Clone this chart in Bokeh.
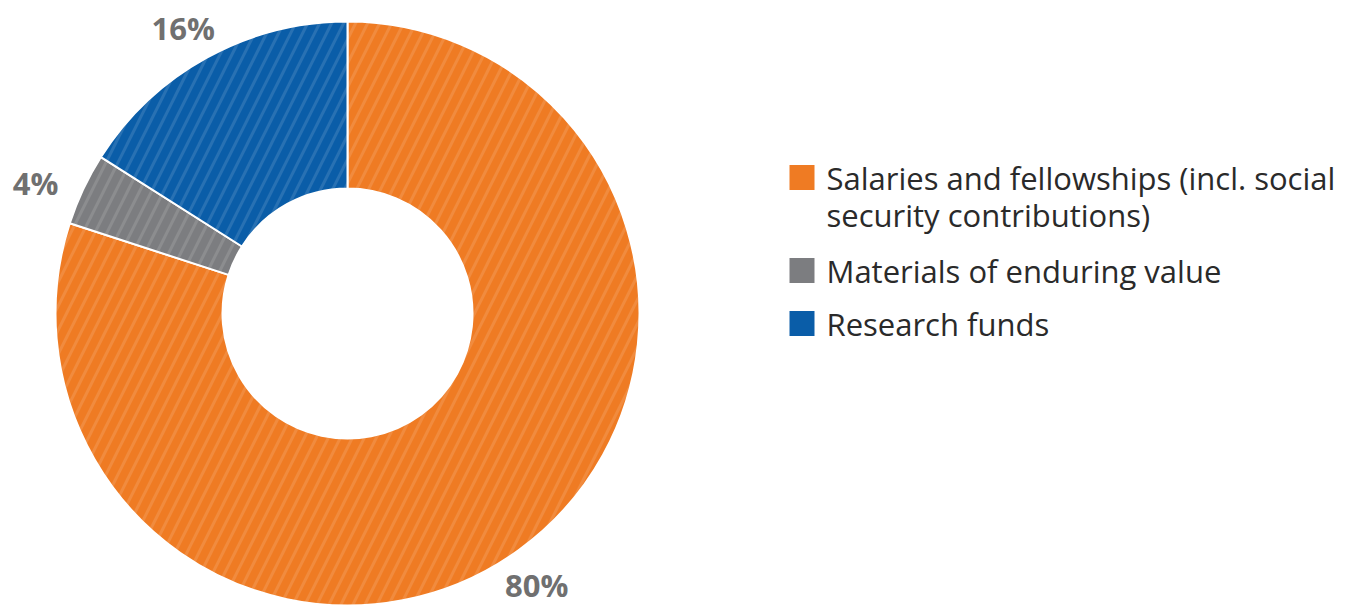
import math
from bokeh.plotting import figure
from bokeh.models import Range1d, ColumnDataSource
from bokeh.core.properties import value
from bokeh.embed import file_html
from bokeh.resources import INLINE

categories = ["Salaries and fellowships (incl. social security contributions)",
              "Materials of enduring value",
              "Research funds"]
legend_lines = [["Salaries and fellowships (incl. social", "security contributions)"],
                ["Materials of enduring value"],
                ["Research funds"]]
shares = [80, 4, 16]
labels = ["80%", "4%", "16%"]
colors = ["#EF7B23", "#7C7D80", "#0A5DA8"]

W, H = 1348, 606
p = figure(width=W, height=H, output_backend="svg", toolbar_location=None,
           x_range=Range1d(0, W), y_range=Range1d(H, 0), min_border=0)
p.axis.visible = False
p.grid.visible = False
p.outline_line_color = None
p.background_fill_color = "white"
p.border_fill_color = "white"

cx, cy = 347, 313
r_out, r_in = 292, 125

total = sum(shares)
starts, ends, mids = [], [], []
cum = 0.0
for s in shares:
    a0 = cum / total
    cum += s
    a1 = cum / total
    starts.append(math.pi / 2 - 2 * math.pi * a0)
    ends.append(math.pi / 2 - 2 * math.pi * a1)
    # screen-space (y down) mid angle, clockwise from +x
    mids.append(-math.pi / 2 + 2 * math.pi * (a0 + a1) / 2)

src = ColumnDataSource(dict(start=starts, end=ends, color=colors))
p.annular_wedge(x=cx, y=cy, inner_radius=r_in, outer_radius=r_out,
                start_angle="start", end_angle="end", direction="clock",
                fill_color="color", line_color="white", line_width=2,
                hatch_pattern="/", hatch_color="white", hatch_alpha=0.12,
                hatch_scale=24, hatch_weight=3, source=src)

# label placement (style): radial distance and angular nudge per slice
label_r = [331, 338, 329]
label_nudge = [0.02, -0.045, -0.02]
lx = [cx + label_r[i] * math.cos(mids[i] + label_nudge[i]) for i in range(3)]
ly = [cy + label_r[i] * math.sin(mids[i] + label_nudge[i]) for i in range(3)]
p.text(x=lx, y=ly, text=labels, text_font=value("Open Sans"), text_font_size="31px",
       text_font_style="bold", text_color="#707070", text_align="center",
       text_baseline="middle")

# legend
sq_x = 801.5
sq_size = 25
row_y = [177, 270, 323]
line_h = 37
for i in range(3):
    p.rect(x=[sq_x], y=[row_y[i]], width=sq_size, height=sq_size,
           fill_color=colors[i], line_color=None)
    for j, t in enumerate(legend_lines[i]):
        p.text(x=[826], y=[row_y[i] + j * line_h], text=[t],
               text_font=value("Open Sans"), text_font_size="31px",
               text_color="#2a2a2a", text_align="left", text_baseline="middle")

open("out.html", "w").write(file_html(p, INLINE))
